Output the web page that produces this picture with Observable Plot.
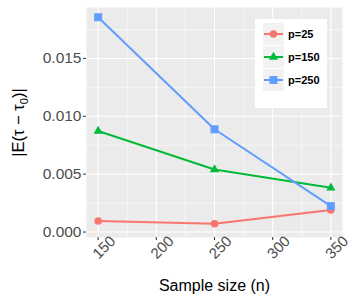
<!DOCTYPE html>
<html><head><meta charset="utf-8">
<script src="https://cdn.jsdelivr.net/npm/d3@7"></script>
<script src="https://cdn.jsdelivr.net/npm/@observablehq/plot@0.6"></script>
<style>
body{margin:0;background:#fff;font-family:"Liberation Sans",Arial,sans-serif}
#wrap{position:relative;width:350px;height:300px}
#legend{position:absolute;left:255px;top:19px;width:72px;height:89px;background:#fff}
.row{position:absolute;left:8px;height:22px;display:flex;align-items:center}
.row span{font-weight:bold;font-size:11px;color:#000;margin-left:4px}
</style></head><body><div id="wrap"></div>
<script>
const sampleSizes = [150, 250, 350];
const seriesNames = ["p=25", "p=150", "p=250"];
const p25  = [0.00095, 0.00072, 0.0019];
const p150 = [0.00873, 0.0054, 0.00382];
const p250 = [0.01856, 0.00888, 0.00224];
const xTicks = [150, 200, 250, 300, 350];
const xMinor = [175, 225, 275, 325];
const yTicks = [0, 0.005, 0.010, 0.015];
const yMinor = [0.0025, 0.0075, 0.0125, 0.0175];
const colors = ["#F8766D", "#00BA38", "#619CFF"];
const symbols = ["circle", "triangle", "square"];
const radii = [3.8, 3.4, 4.5];

const seriesVals = [p25, p150, p250];
const rowsBy = seriesVals.map((vals, i) => sampleSizes.map((n, j) => ({n, v: vals[j], s: seriesNames[i]})));

const marks = [
  Plot.frame({fill: "#EBEBEB"}),
  Plot.gridX(xMinor, {stroke: "white", strokeOpacity: 1, strokeWidth: 0.55}),
  Plot.gridY(yMinor, {stroke: "white", strokeOpacity: 1, strokeWidth: 0.55}),
  Plot.gridX(xTicks, {stroke: "white", strokeOpacity: 1, strokeWidth: 1.1}),
  Plot.gridY(yTicks, {stroke: "white", strokeOpacity: 1, strokeWidth: 1.1})
];
rowsBy.forEach((rows, i) => {
  marks.push(Plot.line(rows, {x: "n", y: "v", stroke: colors[i], strokeWidth: 2}));
});
rowsBy.forEach((rows, i) => {
  marks.push(Plot.dot(rows, {x: "n", y: "v", fill: colors[i], symbol: symbols[i], r: radii[i]}));
});
marks.push(
  Plot.axisY({ticks: yTicks, tickSize: 3, tickPadding: 2, tickFormat: d3.format(".3f"), fontSize: 15.5, fill: "#4D4D4D", stroke: "#333", label: null}),
  Plot.axisX({ticks: xTicks, tickSize: 3, tickFormat: () => "", stroke: "#333", label: null}),
  Plot.text(xTicks, {x: d => d, text: d => String(d), frameAnchor: "bottom", dy: 10, dx: 6, rotate: -45, textAnchor: "middle", lineAnchor: "middle", fontSize: 15, fill: "#4D4D4D"}),
  Plot.text(["Sample size (n)"], {frameAnchor: "bottom", dy: 48, textAnchor: "middle", lineAnchor: "middle", fontSize: 16, fill: "black"}),
  Plot.text(["|E(τ − τ0)|"], {frameAnchor: "left", dx: -68, rotate: -90, textAnchor: "middle", lineAnchor: "middle", fontSize: 16.5, fill: "black", className: "ytitle"})
);

const chart = Plot.plot({
  width: 350, height: 300,
  marginLeft: 86, marginRight: 8, marginTop: 7, marginBottom: 63,
  style: {fontFamily: "'Liberation Sans', Arial, sans-serif", background: "white", overflow: "visible"},
  x: {domain: [140, 360]},
  y: {domain: [-0.00047, 0.0194]},
  marks
});
const wrap = document.getElementById("wrap");
wrap.appendChild(chart);

// subscript in y title
d3.select(chart).selectAll("g.ytitle text").each(function() {
  const t = d3.select(this);
  t.text(null);
  t.append("tspan").text("|E(τ − τ");
  t.append("tspan").attr("font-size", 11).attr("dy", 4).text("0");
  t.append("tspan").attr("dy", -4).text(")|");
});

// legend
const leg = d3.select(wrap).append("div").attr("id", "legend");
seriesNames.forEach((name, i) => {
  const row = leg.append("div").attr("class", "row").style("top", (15 + i * 23 - 11) + "px");
  const svg = row.append("svg").attr("width", 21).attr("height", 22).style("background", "#F2F2F2");
  svg.append("line").attr("x1", 1).attr("x2", 20).attr("y1", 11).attr("y2", 11).attr("stroke", colors[i]).attr("stroke-width", 2);
  const sym = {circle: d3.symbolCircle, triangle: d3.symbolTriangle, square: d3.symbolSquare}[symbols[i]];
  svg.append("path").attr("transform", "translate(10.5,11)").attr("d", d3.symbol(sym, Math.PI * radii[i] * radii[i])()).attr("fill", colors[i]);
  row.append("span").text(name);
});
</script></body></html>
